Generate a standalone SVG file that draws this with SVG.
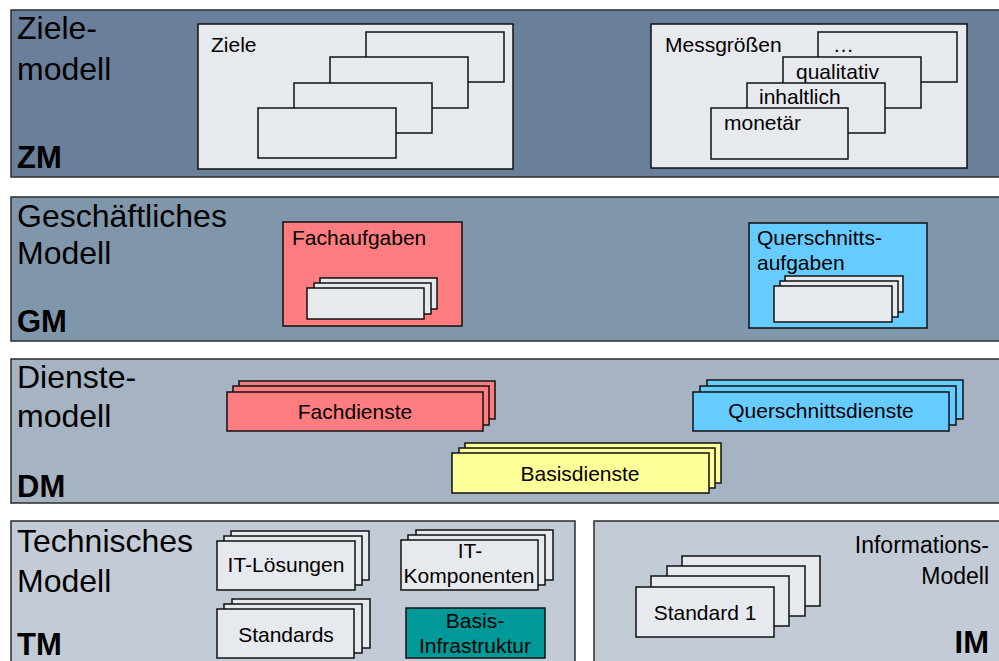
<svg xmlns="http://www.w3.org/2000/svg" width="999" height="661" viewBox="0 0 999 661">
<style>
.band{stroke:#2b2b2b;stroke-width:1.5}
.r{stroke:#111;stroke-width:1.5}
.lt{fill:#e6e9ee}
.red{fill:#ff7c80}
.blue{fill:#66ccff}
.yel{fill:#ffff99}
.teal{fill:#009999}
text{font-family:"Liberation Sans",Arial,sans-serif;fill:#000}
.big{font-size:32px}
.bold{font-size:31px;font-weight:bold}
.t{font-size:21px}
.m{text-anchor:middle}
.e{text-anchor:end}
</style>
<rect width="999" height="661" fill="#ffffff"/>

<g id="ZM">
<rect class="band" x="11" y="10" width="1000" height="167" fill="#6a7f99"/>
<text class="big" x="17" y="39">Ziele-</text>
<text class="big" x="17" y="80">modell</text>
<text class="bold" x="17" y="168">ZM</text>
</g>
<g id="Ziele">
<rect class="r lt" x="198" y="24" width="315" height="145"/>
<text class="t" x="211" y="52">Ziele</text>
<rect class="r lt" x="366" y="32" width="138" height="50"/>
<rect class="r lt" x="330" y="57" width="138" height="51"/>
<rect class="r lt" x="294" y="83" width="138" height="50"/>
<rect class="r lt" x="258" y="108" width="138" height="50"/>
</g>
<g id="Messgroessen">
<rect class="r lt" x="651" y="24" width="316" height="144"/>
<text class="t" x="665" y="52">Messgrößen</text>
<rect class="r lt" x="818" y="32" width="139" height="50"/>
<text class="t" x="833" y="52">…</text>
<rect class="r lt" x="783" y="57" width="138" height="51"/>
<text class="t" x="796" y="79">qualitativ</text>
<rect class="r lt" x="747" y="83" width="138" height="50"/>
<text class="t" x="759" y="104">inhaltlich</text>
<rect class="r lt" x="711" y="108" width="137" height="51"/>
<text class="t" x="724" y="130">monetär</text>
</g>

<g id="GM">
<rect class="band" x="11" y="197" width="1000" height="144" fill="#8096ab"/>
<text class="big" x="17" y="227">Geschäftliches</text>
<text class="big" x="17" y="264">Modell</text>
<text class="bold" x="17" y="332">GM</text>
</g>
<g id="Fachaufgaben">
<rect class="r red" x="283" y="222" width="179" height="104"/>
<text class="t" x="292" y="245">Fachaufgaben</text>
<rect class="r lt" x="320" y="278" width="117" height="31"/>
<rect class="r lt" x="314" y="283" width="117" height="31"/>
<rect class="r lt" x="307" y="288" width="117" height="31"/>
</g>
<g id="Querschnittsaufgaben">
<rect class="r blue" x="749" y="223" width="178" height="105"/>
<text class="t" x="757" y="245">Querschnitts-</text>
<text class="t" x="757" y="270">aufgaben</text>
<rect class="r lt" x="785" y="276" width="118" height="36"/>
<rect class="r lt" x="780" y="281" width="118" height="36"/>
<rect class="r lt" x="774" y="286" width="118" height="36"/>
</g>

<g id="DM">
<rect class="band" x="11" y="359" width="1000" height="144" fill="#a6b3c3"/>
<text class="big" x="17" y="388">Dienste-</text>
<text class="big" x="17" y="427">modell</text>
<text class="bold" x="17" y="497">DM</text>
</g>
<g id="Fachdienste">
<rect class="r red" x="239" y="381" width="256" height="38"/>
<rect class="r red" x="233" y="386" width="256" height="39"/>
<rect class="r red" x="227" y="392" width="256" height="39"/>
<text class="t m" x="355" y="419">Fachdienste</text>
</g>
<g id="Querschnittsdienste">
<rect class="r blue" x="707" y="380" width="256" height="39"/>
<rect class="r blue" x="700" y="386" width="256" height="39"/>
<rect class="r blue" x="693" y="392" width="256" height="39"/>
<text class="t m" x="821" y="418">Querschnittsdienste</text>
</g>
<g id="Basisdienste">
<rect class="r yel" x="465" y="443" width="256" height="40"/>
<rect class="r yel" x="459" y="448" width="256" height="40"/>
<rect class="r yel" x="452" y="453" width="257" height="40"/>
<text class="t m" x="580" y="481">Basisdienste</text>
</g>

<g id="TM">
<rect class="band" x="11" y="521" width="564" height="150" fill="#c3ccd6"/>
<text class="big" x="17" y="552">Technisches</text>
<text class="big" x="17" y="592">Modell</text>
<text class="bold" x="17" y="655">TM</text>
</g>
<g id="IT-Loesungen">
<rect class="r lt" x="231" y="531" width="138" height="49"/>
<rect class="r lt" x="224" y="536" width="138" height="49"/>
<rect class="r lt" x="217" y="541" width="138" height="49"/>
<text class="t m" x="286" y="572">IT-Lösungen</text>
</g>
<g id="Standards">
<rect class="r lt" x="232" y="599" width="138" height="49"/>
<rect class="r lt" x="224" y="604" width="138" height="49"/>
<rect class="r lt" x="217" y="609" width="137" height="49"/>
<text class="t m" x="286" y="642">Standards</text>
</g>
<g id="IT-Komponenten">
<rect class="r lt" x="416" y="530" width="137" height="50"/>
<rect class="r lt" x="408" y="535" width="137" height="50"/>
<rect class="r lt" x="401" y="540" width="137" height="50"/>
<text class="t m" x="470" y="558">IT-</text>
<text class="t m" x="469" y="583">Komponenten</text>
</g>
<g id="Basis-Infrastruktur">
<rect class="r teal" x="406" y="608" width="139" height="50"/>
<text class="t m" x="475" y="628">Basis-</text>
<text class="t m" x="475" y="653">Infrastruktur</text>
</g>

<g id="IM">
<rect class="band" x="594" y="521" width="420" height="150" fill="#c3ccd6"/>
<text class="e" x="989" y="553" font-size="23">Informations-</text>
<text class="e" x="989" y="584" font-size="23">Modell</text>
<text class="bold e" x="989" y="653">IM</text>
</g>
<g id="Standard1">
<rect class="r lt" x="682" y="556" width="138" height="50"/>
<rect class="r lt" x="667" y="566" width="138" height="50"/>
<rect class="r lt" x="651" y="576" width="138" height="50"/>
<rect class="r lt" x="636" y="587" width="138" height="50"/>
<text class="t m" x="705" y="620">Standard 1</text>
</g>

<g id="connectors"></g>
</svg>
